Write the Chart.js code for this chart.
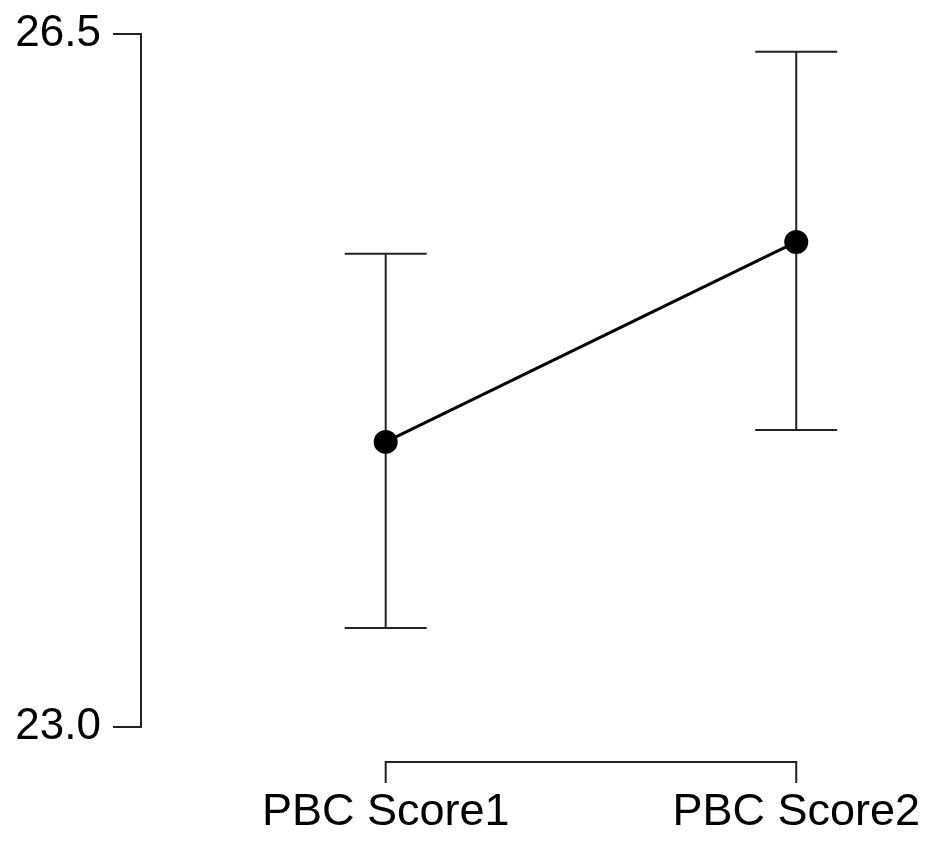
<!DOCTYPE html>
<html>
<head>
<meta charset="utf-8">
<script src="https://cdn.jsdelivr.net/npm/chart.js@4"></script>
<style>
  html, body { margin: 0; padding: 0; background: #fff; }
  #wrap { width: 931px; height: 841px; }
</style>
</head>
<body>
<div id="wrap"><canvas id="plot" width="931" height="841"></canvas></div>
<script>
// ─────────────────────────────────────────────────────────────
// DATA
// ─────────────────────────────────────────────────────────────
const categories = ['PBC Score1', 'PBC Score2'];
const means      = [24.44, 25.45];
const lowerCI    = [23.50, 24.50];
const upperCI    = [25.39, 26.41];
const yTicks     = [23.0, 26.5];

const FONT = "'Liberation Sans', Arial, sans-serif";
const INK  = '#000';

// ─────────────────────────────────────────────────────────────
// PLUGIN: error bars (drawn under the points)
// ─────────────────────────────────────────────────────────────
const errorBars = {
  id: 'errorBars',
  beforeDatasetsDraw(chart) {
    const { ctx, scales: { x, y } } = chart;
    ctx.save();
    ctx.strokeStyle = '#222';
    ctx.lineWidth = 2;
    means.forEach((m, i) => {
      const px = x.getPixelForValue(i);
      const top = y.getPixelForValue(upperCI[i]);
      const bot = y.getPixelForValue(lowerCI[i]);
      ctx.beginPath();
      ctx.moveTo(px, top); ctx.lineTo(px, bot);
      ctx.moveTo(px - 41, top); ctx.lineTo(px + 41, top);
      ctx.moveTo(px - 41, bot); ctx.lineTo(px + 41, bot);
      ctx.stroke();
    });
    ctx.restore();
  }
};

// ─────────────────────────────────────────────────────────────
// PLUGIN: bracket-style x axis with labels
// ─────────────────────────────────────────────────────────────
const bracketAxis = {
  id: 'bracketAxis',
  afterDraw(chart) {
    const { ctx, scales: { x }, chartArea } = chart;
    const x0 = x.getPixelForValue(0);
    const x1 = x.getPixelForValue(categories.length - 1);
    const yLine = chartArea.bottom + 35;
    ctx.save();
    ctx.strokeStyle = '#222';
    ctx.lineWidth = 2;
    ctx.beginPath();
    ctx.moveTo(x0, yLine + 21); ctx.lineTo(x0, yLine);
    ctx.lineTo(x1, yLine); ctx.lineTo(x1, yLine + 21);
    ctx.stroke();
    ctx.fillStyle = INK;
    ctx.font = `45px ${FONT}`;
    ctx.textAlign = 'center';
    ctx.textBaseline = 'middle';
    categories.forEach((c, i) => {
      ctx.fillText(c, x.getPixelForValue(i), yLine + 51);
    });
    ctx.restore();
  }
};

// ─────────────────────────────────────────────────────────────
// CHART
// ─────────────────────────────────────────────────────────────
new Chart(document.getElementById('plot'), {
  type: 'line',
  data: {
    datasets: [{
      data: means.map((m, i) => ({ x: i, y: m })),
      borderColor: INK,
      borderWidth: 3,
      pointRadius: 12,
      pointBackgroundColor: INK,
      pointBorderColor: INK,
      pointBorderWidth: 0,
      tension: 0,
    }]
  },
  options: {
    responsive: false,
    animation: false,
    layout: { padding: { top: 30, bottom: 114, right: 11, left: 0 } },
    plugins: { legend: { display: false }, tooltip: { enabled: false } },
    scales: {
      x: {
        type: 'linear',
        min: -0.596,
        max: 1.299,
        display: false,
      },
      y: {
        type: 'linear',
        min: yTicks[0],
        max: yTicks[yTicks.length - 1],
        afterFit(scale) { scale.width = 141; },
        afterBuildTicks(scale) { scale.ticks = yTicks.map(v => ({ value: v })); },
        border: { display: true, color: '#222', width: 2 },
        grid: { drawOnChartArea: false, tickLength: 28, color: '#222', lineWidth: 2 },
        ticks: {
          color: INK,
          padding: 12,
          font: { family: FONT, size: 44, lineHeight: 1 },
          callback: v => Number(v).toFixed(1),
        }
      }
    }
  },
  plugins: [errorBars, bracketAxis]
});
</script>
</body>
</html>
